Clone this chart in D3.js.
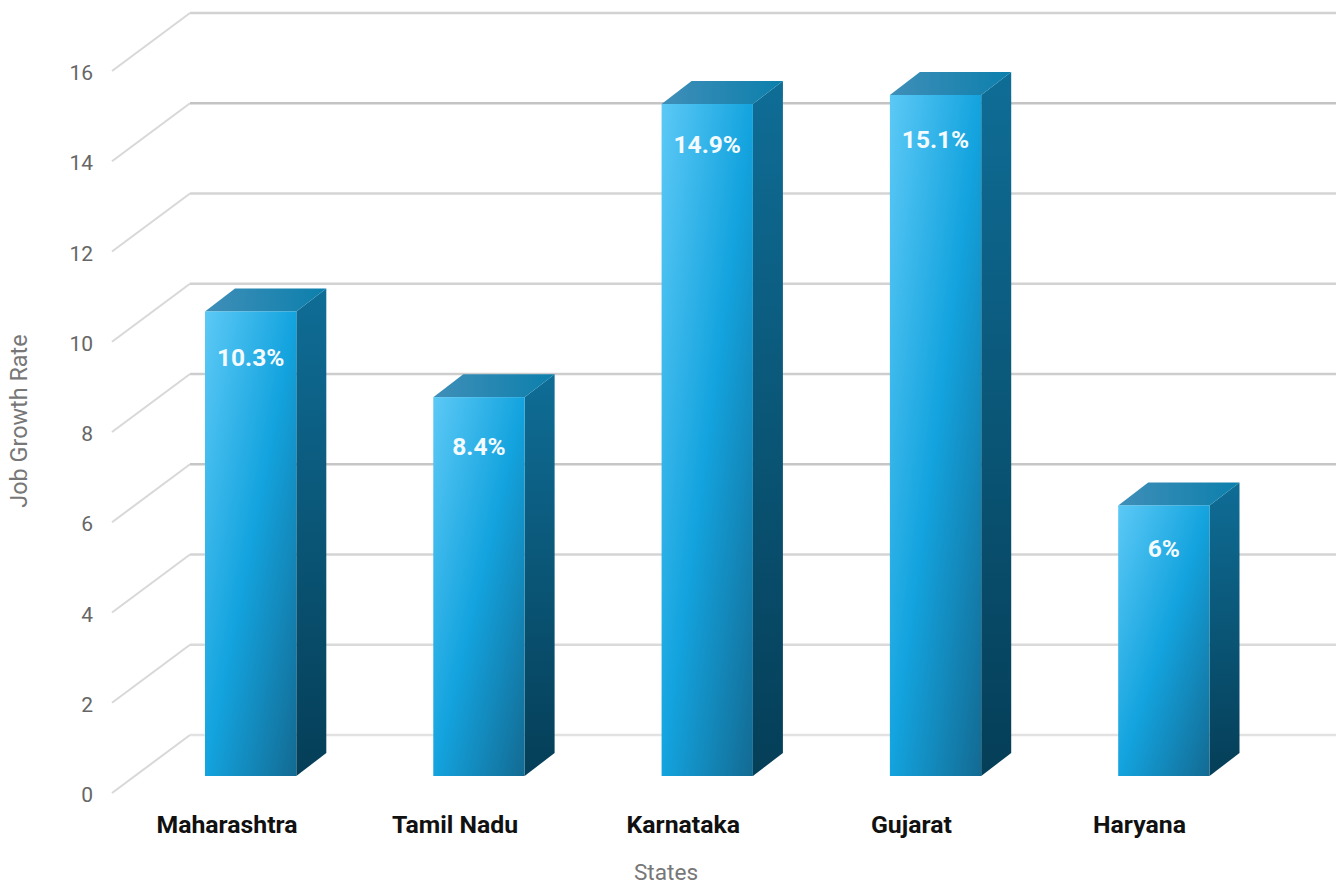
<!DOCTYPE html>
<html>
<head>
<meta charset="utf-8">
<script src="https://cdn.jsdelivr.net/npm/d3@7"></script>
<style>
html,body{margin:0;padding:0;background:#fff}
svg{display:block}
text{font-family:Roboto,sans-serif}
</style>
</head>
<body>
<svg id="chart" width="1336" height="885"></svg>
<script>
// Job growth rate by state
const states = ["Maharashtra", "Tamil Nadu", "Karnataka", "Gujarat", "Haryana"];
const growth = [10.3, 8.4, 14.9, 15.1, 6];
const valueLabels = ["10.3%", "8.4%", "14.9%", "15.1%", "6%"];
const ticks = [0, 2, 4, 6, 8, 10, 12, 14, 16];
const gridShades = ["#e2e2e2", "#dadada", "#d4d4d4", "#c6c6c6", "#cdcdcd", "#d2d2d2", "#d4d4d4", "#c4c4c4", "#d2d2d2"];
const valueLabelDrop = [46, 49, 40, 45, 43];

const svg = d3.select("#chart");
const depthX = 30, depthY = 23;

// Three vertical scales: the axis edge, the back wall and the bar fronts
const yAxisEdge = d3.scaleLinear().domain([0, 16]).range([793, 71]);
const yWall = d3.scaleLinear().domain([0, 16]).range([735, 13]);
const yFront = d3.scaleLinear().domain([0, 16]).range([776, 54.4]);
const x = d3.scaleBand().domain(states).range([136.5, 1278]).paddingInner(0.6).paddingOuter(0.3);
const labelX = d3.scalePoint().domain(states).range([227, 1139.5]);

const defs = svg.append("defs");
function gradient(id, x2, y2, stops) {
  const g = defs.append("linearGradient").attr("id", id)
    .attr("x1", 0).attr("y1", 0).attr("x2", x2).attr("y2", y2);
  stops.forEach(([o, c]) => g.append("stop").attr("offset", o).attr("stop-color", c));
}
gradient("frontFace", 1, 1, [[0, "#5cc9f6"], [0.5, "#13a3de"], [1, "#136a92"]]);
gradient("sideFace", 0, 1, [[0, "#0f6d96"], [1, "#053e57"]]);
gradient("topFace", 1, 0, [[0, "#3f8fb8"], [1, "#0c7fac"]]);

// The receding part of each grid line, from the axis edge to the back wall
svg.append("g").selectAll("path").data(ticks).join("path")
  .attr("fill", "none")
  .attr("stroke", "#d8d8d8")
  .attr("stroke-width", 2)
  .attr("d", d => d3.line()([[112, yAxisEdge(d)], [190, yWall(d)]]));

// The horizontal part of each grid line across the back wall
svg.append("g").selectAll("path").data(ticks).join("path")
  .attr("fill", "none")
  .attr("stroke", (d, i) => gridShades[i])
  .attr("stroke-width", 2.4)
  .attr("d", d => d3.line()([[190, yWall(d)], [1336, yWall(d)]]));

// Tick labels
svg.append("g").selectAll("text").data(ticks).join("text")
  .attr("x", 93).attr("y", d => yAxisEdge(d) + 2)
  .attr("text-anchor", "end").attr("font-size", 21).attr("fill", "#666")
  .attr("dominant-baseline", "central")
  .text(d => d);

// Bars: side, top and front faces
const bars = svg.append("g").selectAll("g").data(states).join("g");
const bw = x.bandwidth();
bars.append("path").attr("fill", "url(#sideFace)")
  .attr("d", (s, i) => {
    const r = x(s) + bw, t = yFront(growth[i]), b = yFront(0);
    return d3.line()([[r, t], [r + depthX, t - depthY], [r + depthX, b - depthY], [r, b]]) + "Z";
  });
bars.append("path").attr("fill", "url(#topFace)")
  .attr("d", (s, i) => {
    const l = x(s), t = yFront(growth[i]);
    return d3.line()([[l, t], [l + depthX, t - depthY], [l + bw + depthX, t - depthY], [l + bw, t]]) + "Z";
  });
bars.append("rect").attr("fill", "url(#frontFace)")
  .attr("x", s => x(s)).attr("width", bw)
  .attr("y", (s, i) => yFront(growth[i]))
  .attr("height", (s, i) => yFront(0) - yFront(growth[i]));

// Value labels inside the bars
bars.append("text")
  .attr("x", s => x(s) + bw / 2)
  .attr("y", (s, i) => yFront(growth[i]) + valueLabelDrop[i])
  .attr("dominant-baseline", "central")
  .attr("text-anchor", "middle").attr("font-size", 24.5).attr("font-weight", 700)
  .attr("fill", "#f4fbff").text((s, i) => valueLabels[i]);

// Category labels
svg.append("g").selectAll("text").data(states).join("text")
  .attr("x", s => labelX(s)).attr("y", 833)
  .attr("text-anchor", "middle").attr("font-size", 24.8).attr("font-weight", 700)
  .attr("fill", "#111").text(s => s);

// Axis titles
svg.append("text").attr("x", 666).attr("y", 879.5)
  .attr("text-anchor", "middle").attr("font-size", 22.6).attr("fill", "#777").text("States");
svg.append("text").attr("transform", "translate(27,421) rotate(-90)")
  .attr("text-anchor", "middle").attr("font-size", 23.4).attr("fill", "#777").text("Job Growth Rate");
</script>
</body>
</html>
